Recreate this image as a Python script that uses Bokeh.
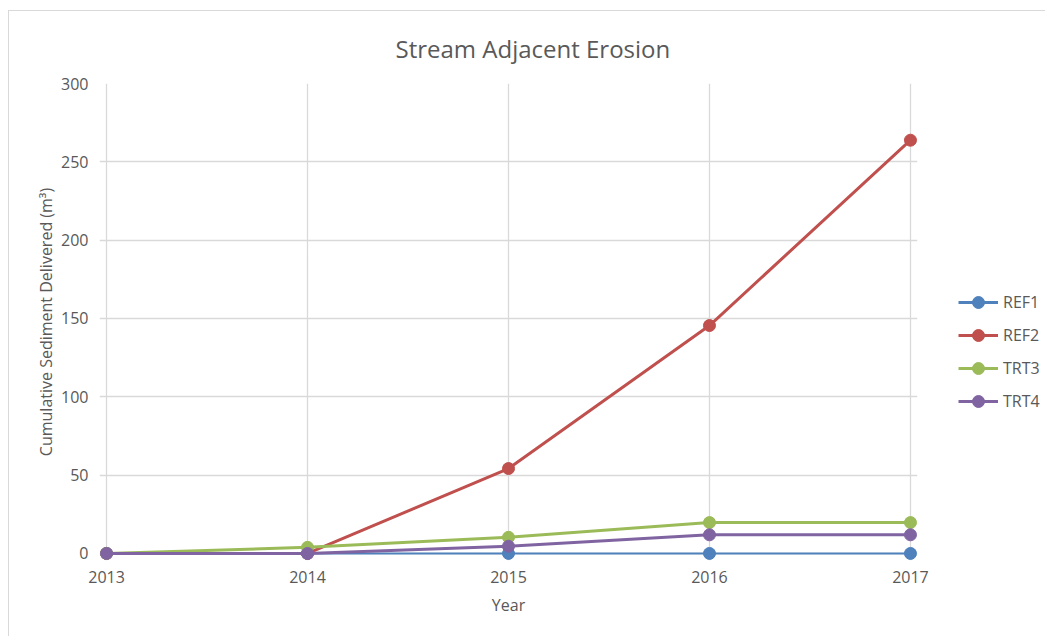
from bokeh.plotting import figure
from bokeh.layouts import row
from bokeh.models import ColumnDataSource, Legend, LegendItem, FixedTicker, Range1d
from bokeh.embed import file_html
from bokeh.resources import INLINE

years = [2013, 2014, 2015, 2016, 2017]
ref1 = [0, 0, 0, 0, 0]
ref2 = [0, 0, 54.2, 145.5, 263.8]
trt3 = [0, 3.9, 10.3, 19.7, 19.7]
trt4 = [0, 0, 4.6, 11.9, 11.9]
series_names = ["REF1", "REF2", "TRT3", "TRT4"]
series_values = [ref1, ref2, trt3, trt4]
colors = ["#4F81BD", "#C0504D", "#9BBB59", "#8064A2"]
widths = [2, 3, 3, 3]
y_ticks = [0, 50, 100, 150, 200, 250, 300]

FONT = "Open Sans"
GREY = "#595959"
W, H = 936, 625
LW = 100
# frame in figure-local pixels
FL, FR, FT, FB = 90, 908, 72, 549
p = figure(width=W, height=H, output_backend="svg", toolbar_location=None,
           x_range=Range1d(2013 - 0.035, 2017 + 0.035), y_range=Range1d(-4.5, 300),
           min_border_left=FL, min_border_right=W - FR,
           min_border_top=FT, min_border_bottom=H - FB)
p.outline_line_color = None

p.title.text = "Stream Adjacent Erosion"
p.title.align = "left"
p.title.offset = 296
p.title.standoff = 37
p.title.text_font = FONT
p.title.text_font_size = "24px"
p.title.text_font_style = "normal"
p.title.text_color = GREY

# legend panel (its renderers share the series data but lie outside its ranges)
lp = figure(width=LW, height=H, output_backend="svg", toolbar_location=None,
            x_range=Range1d(0, 1), y_range=Range1d(0, 1),
            min_border_left=0, min_border_right=0, min_border_top=0, min_border_bottom=0)
lp.axis.visible = False
lp.grid.visible = False
lp.outline_line_color = None

items = []
for name, vals, c, w in zip(series_names, series_values, colors, widths):
    src = ColumnDataSource(dict(x=years, y=vals))
    p.line("x", "y", source=src, line_color=c, line_width=w)
    p.scatter("x", "y", source=src, size=12, fill_color=c, line_color=c)
    l1 = lp.line("x", "y", source=src, line_color=c, line_width=3)
    l2 = lp.scatter("x", "y", source=src, size=12, fill_color=c, line_color=c)
    items.append(LegendItem(label=name, renderers=[l1, l2]))

for ax in (p.xaxis[0], p.yaxis[0]):
    ax.major_tick_line_color = None
    ax.minor_tick_line_color = None
    ax.axis_line_color = None
    ax.major_label_text_font = FONT
    ax.major_label_text_font_size = "16px"
    ax.major_label_text_color = GREY
    ax.axis_label_text_font = FONT
    ax.axis_label_text_font_size = "16px"
    ax.axis_label_text_font_style = "normal"
    ax.axis_label_text_color = GREY

p.xaxis.ticker = FixedTicker(ticks=years)
p.xaxis.major_label_standoff = 4
p.xaxis.axis_label = "Year"
p.xaxis.axis_label_standoff = 8
p.yaxis.ticker = FixedTicker(ticks=y_ticks)
p.yaxis.major_label_standoff = 5
p.yaxis.axis_label = "Cumulative Sediment Delivered (m³)"
p.yaxis.axis_label_standoff = 1

p.xgrid.ticker = FixedTicker(ticks=years)
p.ygrid.ticker = FixedTicker(ticks=y_ticks)
p.grid.grid_line_color = "#d9d9d9"
p.grid.grid_line_width = 1.3

legend = Legend(items=items, location=(13, 144), orientation="vertical",
                border_line_color=None, background_fill_alpha=0,
                label_text_font=FONT, label_text_font_size="16px",
                label_text_color=GREY, glyph_width=40, glyph_height=30,
                label_standoff=5, spacing=3, padding=0, margin=0)
lp.add_layout(legend, "center")

layout = row(p, lp, spacing=0)
layout.styles = {"border-left": "1px solid #d9d9d9", "border-top": "1px solid #d9d9d9",
                 "margin-left": "8px", "margin-top": "10px"}

open("out.html", "w").write(file_html(layout, INLINE))
